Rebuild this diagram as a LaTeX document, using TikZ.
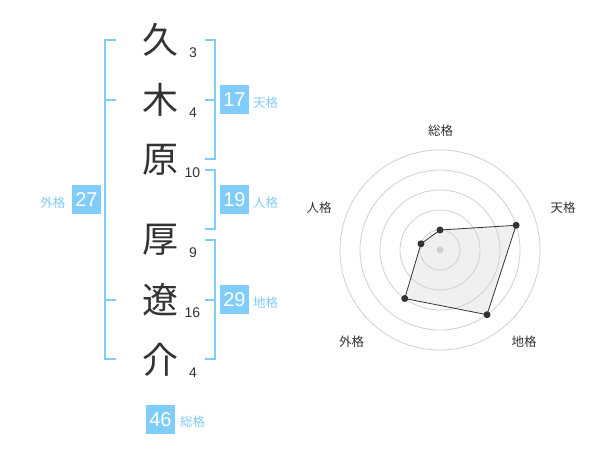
\documentclass[tikz,border=0pt]{standalone}
\usepackage{fontspec}
\setmainfont{Liberation Sans}
\newfontfamily\jp{Noto Sans CJK JP}
\definecolor{sky}{RGB}{128,204,250}
\definecolor{ink}{RGB}{51,51,51}
\definecolor{ring}{RGB}{208,208,208}
\begin{document}
\begin{tikzpicture}[x=1pt,y=-1pt,
 kanji/.style={font=\jp\fontsize{36}{36}\selectfont, text=ink, inner sep=0pt},
 strokes/.style={font=\fontsize{14}{14}\selectfont, text=ink, inner sep=0pt},
 scorebox/.style={fill=sky, text=white, minimum width=29pt, minimum height=29pt, inner sep=0pt, font=\fontsize{20}{20}\selectfont},
 scorelab/.style={text=sky, font=\jp\fontsize{12.5}{12.5}\selectfont, inner sep=0pt},
 bracket/.style={draw=sky, line width=2pt},
 axislab/.style={text=ink, font=\jp\fontsize{12.5}{12.5}\selectfont, inner sep=0pt},
 ringline/.style={draw=ring, line width=0.8pt},
 dot/.style={circle, fill=ink, inner sep=0pt, minimum size=7pt}
]
\useasboundingbox (0,0) rectangle (600,470);

% kanji column
\node[kanji] (k1) at (160,40) {久};
\node[kanji] (k2) at (160,100) {木};
\node[kanji] (k3) at (160,160) {原};
\node[kanji] (k4) at (160,240) {厚};
\node[kanji] (k5) at (160,300) {遼};
\node[kanji] (k6) at (160,360) {介};

\node[strokes] (s1) at (193,52.7) {3};
\node[strokes] (s2) at (193,112.7) {4};
\node[strokes] (s3) at (192.5,172.7) {10};
\node[strokes] (s4) at (193,252.7) {9};
\node[strokes] (s5) at (192.5,312.7) {16};
\node[strokes] (s6) at (193,372.7) {4};

% brackets
\draw[bracket] (115.7,40) -- (105,40) -- (105,359) -- (115.7,359);
\draw[bracket] (105,100) -- (115.7,100);
\draw[bracket] (105,300) -- (115.7,300);
\draw[bracket] (205,40) -- (215,40) -- (215,159) -- (205,159);
\draw[bracket] (205,100) -- (215,100);
\draw[bracket] (205,170) -- (215,170) -- (215,229) -- (205,229);
\draw[bracket] (205,240) -- (215,240) -- (215,359) -- (205,359);
\draw[bracket] (205,300) -- (215,300);

% scores
\node[scorebox] (ten) at (234.5,100) {17};
\node[scorelab, anchor=west] (tenl) at (253,103) {天格};
\node[scorebox] (jin) at (234.5,200) {19};
\node[scorelab, anchor=west] (jinl) at (253,203) {人格};
\node[scorebox] (chi) at (234.5,300) {29};
\node[scorelab, anchor=west] (chil) at (253,303) {地格};
\node[scorebox] (gai) at (86.5,200) {27};
\node[scorelab, anchor=east] (gail) at (65.5,203) {外格};
\node[scorebox] (sou) at (160.5,419.5) {46};
\node[scorelab, anchor=west] (soul) at (180,422) {総格};

% radar
\coordinate (c) at (440,250);
\coordinate (p1) at (440,230);
\coordinate (p2) at (516.1,225.3);
\coordinate (p3) at (487.0,314.7);
\coordinate (p4) at (404.7,298.5);
\coordinate (p5) at (421.0,243.8);
\fill[black, opacity=0.06] (p1) -- (p2) -- (p3) -- (p4) -- (p5) -- cycle;
\foreach \r in {20,40,60,80,100} \draw[ringline] (c) circle[radius=\r];
\draw[ink, line width=0.8pt] (p1) -- (p2) -- (p3) -- (p4) -- (p5) -- cycle;
\node[circle, fill=ring, inner sep=0pt, minimum size=7pt] (cd) at (c) {};
\node[dot] (d1) at (p1) {};
\node[dot] (d2) at (p2) {};
\node[dot] (d3) at (p3) {};
\node[dot] (d4) at (p4) {};
\node[dot] (d5) at (p5) {};

\node[axislab] (a1) at (440.7,130.7) {総格};
\node[axislab] (a2) at (563,208) {天格};
\node[axislab] (a3) at (524,342) {地格};
\node[axislab] (a4) at (351.7,342) {外格};
\node[axislab] (a5) at (319,208) {人格};
\end{tikzpicture}
\end{document}
